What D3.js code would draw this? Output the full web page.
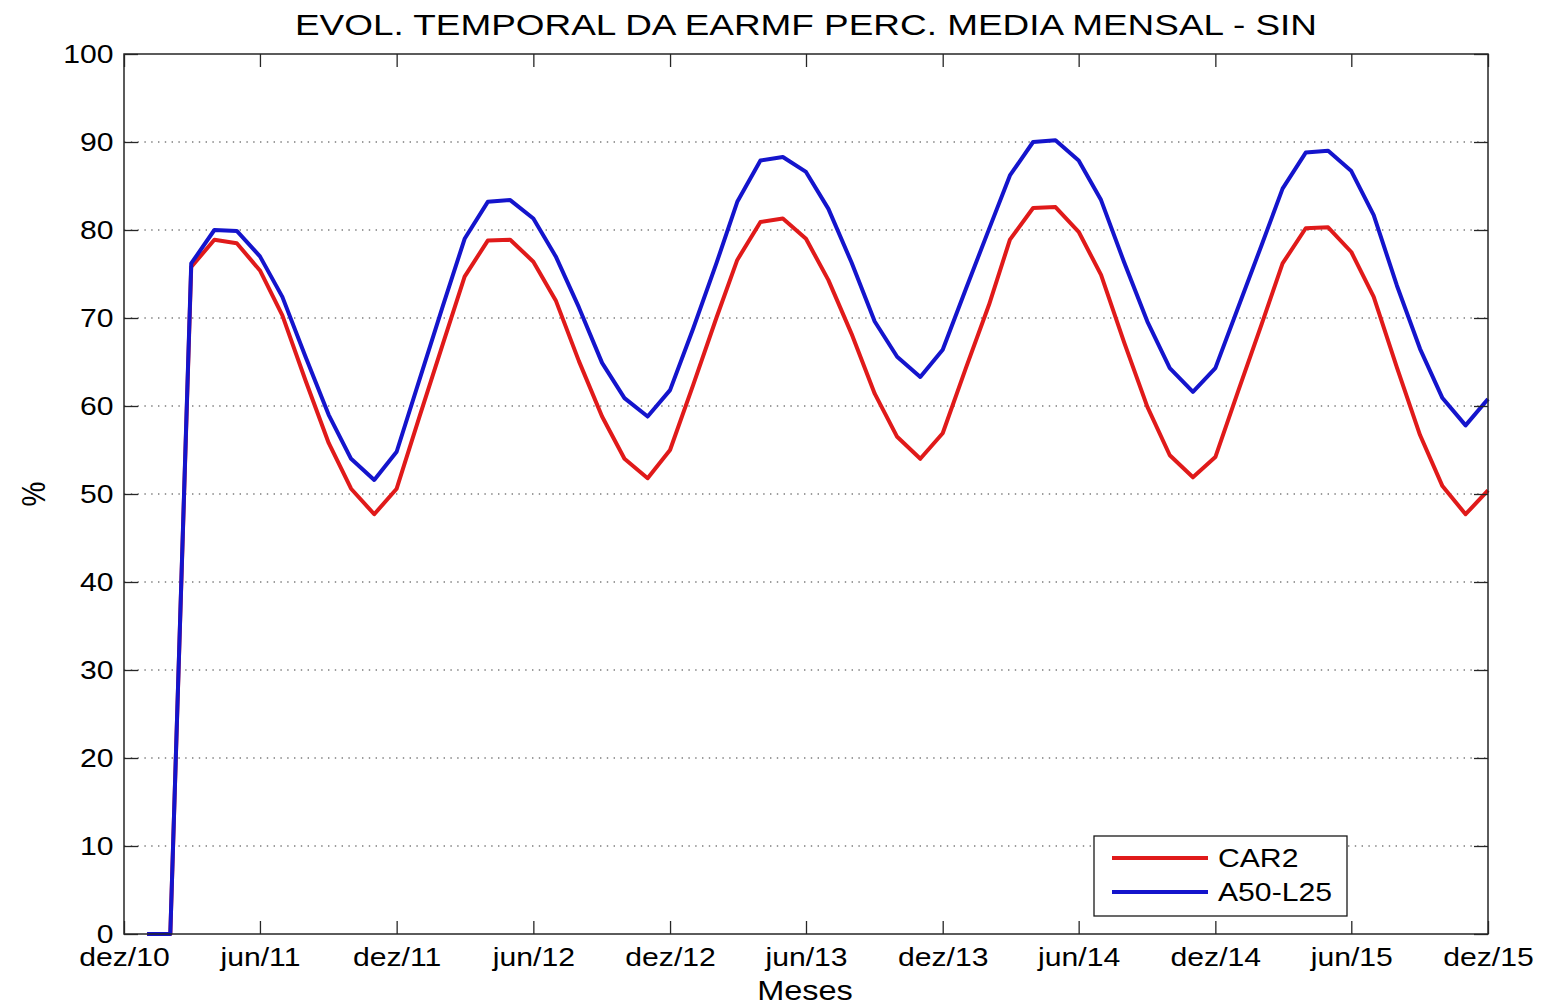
<!DOCTYPE html>
<html>
<head>
<meta charset="utf-8">
<script src="https://cdn.jsdelivr.net/npm/d3@7"></script>
<style>
  html, body { margin: 0; padding: 0; background: #ffffff; }
  svg { display: block; font-family: "Liberation Sans", Arial, Helvetica, sans-serif; }
</style>
</head>
<body>
<svg id="chart" width="1545" height="1006"></svg>
<script>
// ---------- data ----------
const months = [
  "2011-01","2011-02","2011-03","2011-04","2011-05","2011-06","2011-07","2011-08","2011-09","2011-10","2011-11","2011-12",
  "2012-01","2012-02","2012-03","2012-04","2012-05","2012-06","2012-07","2012-08","2012-09","2012-10","2012-11","2012-12",
  "2013-01","2013-02","2013-03","2013-04","2013-05","2013-06","2013-07","2013-08","2013-09","2013-10","2013-11","2013-12",
  "2014-01","2014-02","2014-03","2014-04","2014-05","2014-06","2014-07","2014-08","2014-09","2014-10","2014-11","2014-12",
  "2015-01","2015-02","2015-03","2015-04","2015-05","2015-06","2015-07","2015-08","2015-09","2015-10","2015-11","2015-12"
];
const car2 = [
  0, 0, 75.8, 78.9, 78.5, 75.4, 70.3, 62.9, 55.8, 50.6, 47.7, 50.6,
  58.9, 67.1, 74.7, 78.8, 78.9, 76.4, 72.0, 65.1, 58.8, 54.0, 51.8, 55.0,
  62.4, 70.0, 76.6, 80.9, 81.3, 79.0, 74.3, 68.2, 61.4, 56.5, 54.0, 56.9,
  64.3, 71.5, 78.9, 82.5, 82.6, 79.8, 74.9, 67.2, 59.9, 54.4, 51.9, 54.2,
  61.8, 69.3, 76.2, 80.2, 80.3, 77.5, 72.4, 64.4, 56.7, 50.9, 47.7, 50.4
];
const a50l25 = [
  0, 0, 76.2, 80.0, 79.9, 77.0, 72.4, 65.6, 59.0, 54.0, 51.6, 54.8,
  63.1, 71.4, 79.0, 83.2, 83.4, 81.3, 77.0, 71.2, 64.9, 60.9, 58.8, 61.8,
  68.8, 76.2, 83.2, 87.9, 88.3, 86.6, 82.4, 76.3, 69.6, 65.6, 63.3, 66.4,
  73.3, 80.1, 86.2, 90.0, 90.2, 87.9, 83.4, 76.3, 69.6, 64.3, 61.6, 64.3,
  71.3, 78.3, 84.7, 88.8, 89.0, 86.7, 81.7, 73.7, 66.5, 60.9, 57.8, 60.8
];
const xTickMonths = ["2010-12","2011-06","2011-12","2012-06","2012-12","2013-06","2013-12","2014-06","2014-12","2015-06","2015-12"];
const xTickLabels = ["dez/10","jun/11","dez/11","jun/12","dez/12","jun/13","dez/13","jun/14","dez/14","jun/15","dez/15"];
const yTicks = [0,10,20,30,40,50,60,70,80,90,100];
const yGrid = [10,20,30,40,50,60,70,80,90];
const seriesNames = ["CAR2","A50-L25"];
const seriesColors = ["#e01a1a","#1414cc"];

// ---------- layout ----------
const L = 124, R = 1488, T = 54, B = 934;
const parse = d3.timeParse("%Y-%m");
const svg = d3.select("#chart");
const SX = 1.16; // horizontal text stretch seen in the reference

const x = d3.scaleTime().domain([parse("2010-12"), parse("2015-12")]).range([L, R]);
const y = d3.scaleLinear().domain([0, 100]).range([B, T]);

// grid
svg.append("g").selectAll("line").data(yGrid).join("line")
  .attr("x1", L).attr("x2", R)
  .attr("y1", d => y(d)).attr("y2", d => y(d))
  .attr("stroke", "#3a3a3a").attr("stroke-width", 1.1)
  .attr("stroke-dasharray", "1.4,5.4");

// series
const line = d3.line().x(d => x(d[0])).y(d => y(d[1]));
const series = [car2, a50l25];
series.forEach((vals, i) => {
  const pts = months.map((m, j) => [parse(m), vals[j]]);
  svg.append("path").datum(pts)
    .attr("d", line)
    .attr("fill", "none")
    .attr("stroke", seriesColors[i])
    .attr("stroke-width", 4)
    .attr("stroke-linejoin", "round");
});

// axes
const axisColor = "#262626";
const fontSize = 26;
const xTickDates = xTickMonths.map(parse);

const gx = svg.append("g").attr("transform", `translate(0,${B})`)
  .call(d3.axisBottom(x).tickValues(xTickDates).tickFormat((d, i) => xTickLabels[i])
    .tickSizeInner(-13).tickSizeOuter(0).tickPadding(14));
const gy = svg.append("g").attr("transform", `translate(${L},0)`)
  .call(d3.axisLeft(y).tickValues(yTicks).tickFormat(d3.format("d"))
    .tickSizeInner(-14).tickSizeOuter(0).tickPadding(9));
const gt = svg.append("g").attr("transform", `translate(0,${T})`)
  .call(d3.axisTop(x).tickValues(xTickDates).tickFormat("").tickSizeInner(-13).tickSizeOuter(0));
const gr = svg.append("g").attr("transform", `translate(${R},0)`)
  .call(d3.axisRight(y).tickValues(yTicks).tickFormat("").tickSizeInner(-14).tickSizeOuter(0));

[gx, gy, gt, gr].forEach(g => {
  g.select(".domain").remove();
  g.selectAll(".tick line").attr("stroke", axisColor).attr("stroke-width", 1.3);
  g.selectAll(".tick text")
    .attr("fill", "#000")
    .attr("transform", `scale(${SX},1)`)
    .style("font-size", fontSize + "px")
    .style("font-family", '"Liberation Sans", Arial, sans-serif');
});
svg.append("rect")
  .attr("x", L).attr("y", T).attr("width", R - L).attr("height", B - T)
  .attr("fill", "none").attr("stroke", axisColor).attr("stroke-width", 1.5);

// title
svg.append("text")
  .attr("x", (L + R) / 2).attr("y", 35)
  .attr("text-anchor", "middle")
  .attr("textLength", 1022).attr("lengthAdjust", "spacingAndGlyphs")
  .style("font-size", "29px").attr("fill", "#000")
  .text("EVOL. TEMPORAL DA EARMF PERC. MEDIA MENSAL - SIN");

// axis labels
svg.append("text")
  .attr("transform", `translate(805,1000) scale(${SX},1)`)
  .attr("text-anchor", "middle")
  .style("font-size", "28px").attr("fill", "#000")
  .text("Meses");
svg.append("text")
  .attr("transform", `translate(45,${(T + B) / 2}) rotate(-90) scale(1,${SX})`)
  .attr("text-anchor", "middle")
  .style("font-size", "28px").attr("fill", "#000")
  .text("%");

// legend
const lg = svg.append("g");
lg.append("rect")
  .attr("x", 1094).attr("y", 836).attr("width", 253).attr("height", 80)
  .attr("fill", "#fff").attr("stroke", "#1a1a1a").attr("stroke-width", 1.3);
seriesNames.forEach((name, i) => {
  const yy = 858 + i * 34;
  lg.append("line")
    .attr("x1", 1112).attr("x2", 1208).attr("y1", yy).attr("y2", yy)
    .attr("stroke", seriesColors[i]).attr("stroke-width", 4);
  lg.append("text")
    .attr("transform", `translate(1218,${yy + 9}) scale(${SX},1)`)
    .style("font-size", "26px").attr("fill", "#000")
    .text(name);
});
</script>
</body>
</html>
